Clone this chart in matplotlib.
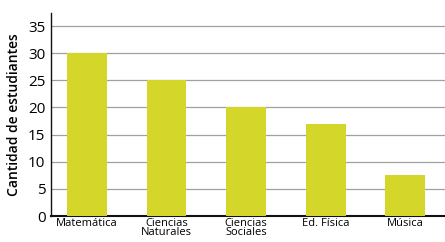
import matplotlib
matplotlib.use("Agg")
import matplotlib.pyplot as plt
import numpy as np

materias = ["Matemática", "Ciencias\nNaturales", "Ciencias\nSociales", "Ed. Física", "Música"]
estudiantes = [30, 25, 20, 17, 7.5]
yticks = [0, 5, 10, 15, 20, 25, 30, 35]

plt.rcParams['font.family'] = ['Open Sans', 'DejaVu Sans']

fig = plt.figure(figsize=(4.45, 2.42), dpi=100)
ax = fig.add_axes([0.1146, 0.1074, 0.8854, 0.8386])

x = np.arange(len(materias))
ax.bar(x, estudiantes, width=0.5, color="#d4d62a", zorder=3)

ax.set_xlim(-0.45, 4.5)
ax.set_ylim(0, 37.4)
ax.set_yticks(yticks)
ax.set_yticklabels([str(v) for v in yticks], fontsize=11)
ax.set_xticks(x)
ax.set_xticklabels(materias, fontsize=8, linespacing=0.8)
ax.tick_params(axis='both', length=0, pad=1.5)
ax.tick_params(axis='y', pad=4)

for v in yticks[1:]:
    ax.axhline(v, color="#a0a0a0", linewidth=0.9, zorder=1)

for s in ["top", "right"]:
    ax.spines[s].set_visible(False)
ax.spines["left"].set_color("#111111")
ax.spines["left"].set_linewidth(1.0)
ax.spines["bottom"].set_color("#111111")
ax.spines["bottom"].set_linewidth(1.5)

ax.set_ylabel("Cantidad de estudiantes", fontsize=10, fontweight="semibold", labelpad=5)

fig.savefig("out.png", dpi=100)
